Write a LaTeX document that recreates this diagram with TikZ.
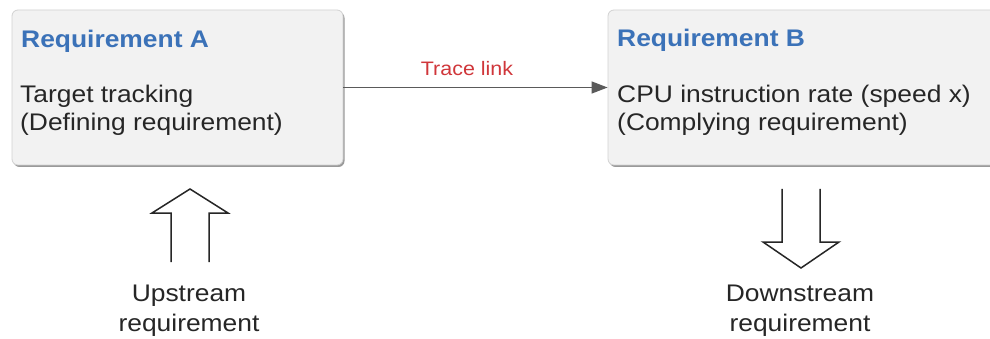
\documentclass[tikz,border=0pt]{standalone}
\usepackage{fontspec}
\setmainfont{Liberation Sans}[FakeStretch=1.1]
\usetikzlibrary{arrows.meta}
\definecolor{boxfill}{HTML}{F2F2F2}
\definecolor{boxedge}{HTML}{D2D2D2}
\definecolor{boxshadow}{HTML}{9A9A9A}
\definecolor{titleblue}{HTML}{3B72B8}
\definecolor{linkred}{HTML}{D0363A}
\definecolor{linkgray}{HTML}{5A5A5A}
\definecolor{textgray}{HTML}{262626}
\tikzset{
  reqbox/.style={draw=boxedge, fill=boxfill, line width=0.8pt, rounded corners=6pt,
    minimum height=155pt, inner sep=0pt},
  boxshade/.style={fill=boxshadow, rounded corners=6pt},
  title/.style={anchor=base west, inner sep=0pt, text=titleblue, font=\fontsize{24}{29}\selectfont\bfseries},
  body/.style={anchor=base west, inner sep=0pt, text=textgray, font=\fontsize{24}{29}\selectfont},
  caption/.style={anchor=base, inner sep=0pt, text=textgray, font=\fontsize{24}{29}\selectfont},
  linklabel/.style={inner sep=0pt, text=linkred, font=\fontsize{19.5}{24}\selectfont},
  tracearrow/.style={draw=linkgray, line width=1.2pt, -{Triangle[length=16pt,width=12pt]}},
  hollowarrow/.style={draw=textgray, line width=1.5pt, line join=miter},
}
\begin{document}
\begin{tikzpicture}[x=1pt,y=-1pt]
\useasboundingbox[fill=white] (0,0) rectangle (990,339);

% drop shadows of the two boxes
\fill[boxshade] (13.5,12) rectangle (344.5,167);
\fill[boxshade] (609.5,12) rectangle (1010,167);

% requirement boxes
\node[reqbox, minimum width=331pt] (boxA) at (177.5,87.5) {};
\node[reqbox, minimum width=400pt] (boxB) at (808,87.5) {};

% texts of box A
\node[title] (titleA) at (21,47.5) {Requirement A};
\node[body] (bodyA1) at (20,103) {Target tracking};
\node[body] (bodyA2) at (20,131) {(Defining requirement)};

% texts of box B
\node[title] (titleB) at (617,47) {Requirement B};
\node[body] (bodyB1) at (617,103) {CPU instruction rate (speed x)};
\node[body] (bodyB2) at (617,131) {(Complying requirement)};

% trace link between the requirements
\draw[tracearrow] (boxA.east) -- (boxB.west);
\node[linklabel] (tracelabel) at (467,69) {Trace link};

% upstream hollow arrow
\coordinate (upL) at (171,262);
\coordinate (upR) at (209,262);
\draw[hollowarrow] (upL) -- (171,213) -- (152,213) -- (190,189) -- (228,213) -- (209,213) -- (upR);
\node[caption] (up1) at (189,301.5) {Upstream};
\node[caption] (up2) at (189,331) {requirement};

% downstream hollow arrow
\coordinate (dnL) at (782,189);
\coordinate (dnR) at (820,189);
\draw[hollowarrow] (dnL) -- (782,242) -- (763,242) -- (801,268) -- (839,242) -- (820,242) -- (dnR);
\node[caption] (dn1) at (800,301.5) {Downstream};
\node[caption] (dn2) at (800,331) {requirement};
\end{tikzpicture}
\end{document}
